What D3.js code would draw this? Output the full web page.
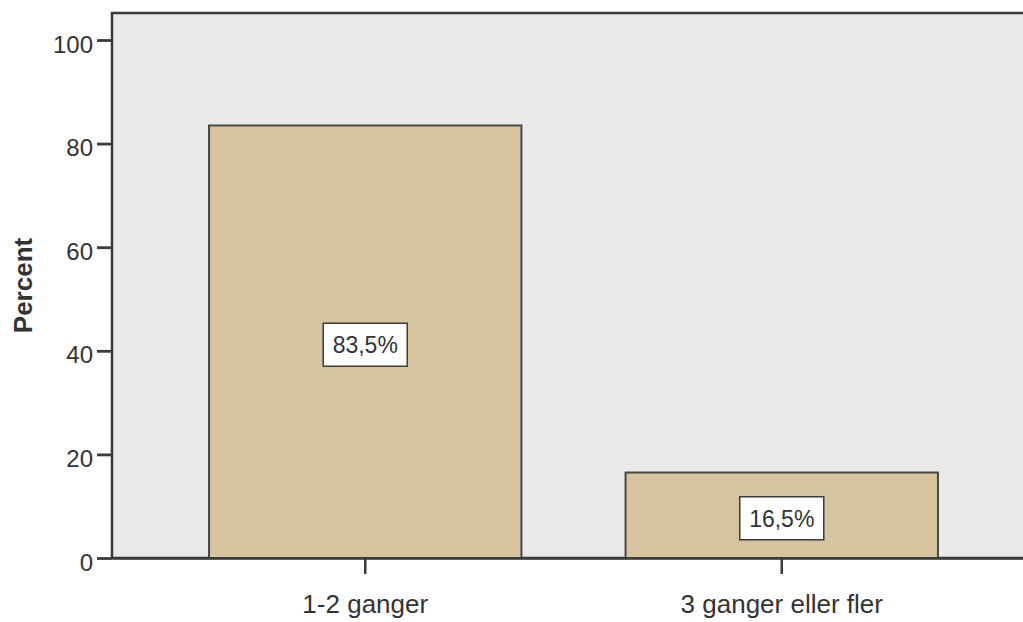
<!DOCTYPE html>
<html>
<head>
<meta charset="utf-8">
<script src="https://cdn.jsdelivr.net/npm/d3@7"></script>
<style>
  html, body { margin: 0; padding: 0; background: #ffffff; }
  svg { display: block; font-family: "Liberation Sans", Arial, Helvetica, sans-serif; }
</style>
</head>
<body>
<svg id="chart" width="1023" height="622"></svg>
<script>
const categories = ["1-2 ganger", "3 ganger eller fler"];
const values = [83.5, 16.5];
const valueLabels = ["83,5%", "16,5%"];
const yTicks = [0, 20, 40, 60, 80, 100];
const yTitle = "Percent";

(function () {
const svg = d3.select("#chart");
const mLeft = 112, mTop = 13, mRight = 1035, mBottom = 558;
const y = d3.scaleLinear().domain([0, 100]).range([mBottom, 40]);
const x = d3.scaleBand().domain(categories).range([mLeft, mRight])
  .paddingInner(0.25).paddingOuter(0.233);

const ink = "#3b3b3d";

// plot background
svg.append("rect").attr("x", mLeft).attr("y", mTop)
  .attr("width", mRight - mLeft).attr("height", mBottom - mTop)
  .attr("fill", "#eae9e7").attr("stroke", ink).attr("stroke-width", 2.5);

// bars
svg.selectAll(".bar").data(values).join("rect")
  .attr("class", "bar")
  .attr("x", (d, i) => x(categories[i]))
  .attr("y", d => y(d))
  .attr("width", x.bandwidth())
  .attr("height", d => mBottom - y(d))
  .attr("fill", "#d5c49e").attr("stroke", "#474747").attr("stroke-width", 2);

// value label boxes
const bw = 84, bh = 43;
values.forEach((d, i) => {
  const cx = x(categories[i]) + x.bandwidth() / 2;
  const cy = (y(d) + mBottom) / 2 + 3;
  svg.append("rect").attr("x", cx - bw / 2).attr("y", cy - bh / 2)
    .attr("width", bw).attr("height", bh)
    .attr("fill", "#ffffff").attr("stroke", ink).attr("stroke-width", 1.5);
  svg.append("text").attr("x", cx).attr("y", cy + 8.5)
    .attr("text-anchor", "middle").attr("font-size", 23).attr("fill", "#333")
    .text(valueLabels[i]);
});

// y axis
const yAxis = d3.axisLeft(y).tickValues(yTicks).tickSize(15).tickSizeOuter(0).tickPadding(4);
const gy = svg.append("g").attr("transform", `translate(${mLeft},0)`).call(yAxis);
gy.select(".domain").remove();
gy.selectAll(".tick line").attr("stroke", ink).attr("stroke-width", 2.8);
gy.selectAll(".tick text").attr("font-size", 24).attr("fill", "#333")
  .attr("font-family", "'Liberation Sans', Arial, sans-serif").attr("dy", "0.5em");

// x axis
const xAxis = d3.axisBottom(x).tickSize(16).tickSizeOuter(0).tickPadding(14);
const gx = svg.append("g").attr("transform", `translate(0,${mBottom})`).call(xAxis);
gx.select(".domain").attr("stroke", ink).attr("stroke-width", 2.5);
gx.selectAll(".tick line").attr("stroke", ink).attr("stroke-width", 2.5);
gx.selectAll(".tick text").attr("font-size", 26).attr("fill", "#333")
  .attr("font-family", "'Liberation Sans', Arial, sans-serif").attr("dy", "0.95em");

// y title
svg.append("text")
  .attr("transform", `translate(32,${(mTop + mBottom) / 2}) rotate(-90)`)
  .attr("text-anchor", "middle").attr("font-size", 26).attr("font-weight", "bold")
  .attr("fill", "#333").text(yTitle);
})();
</script>
</body>
</html>
